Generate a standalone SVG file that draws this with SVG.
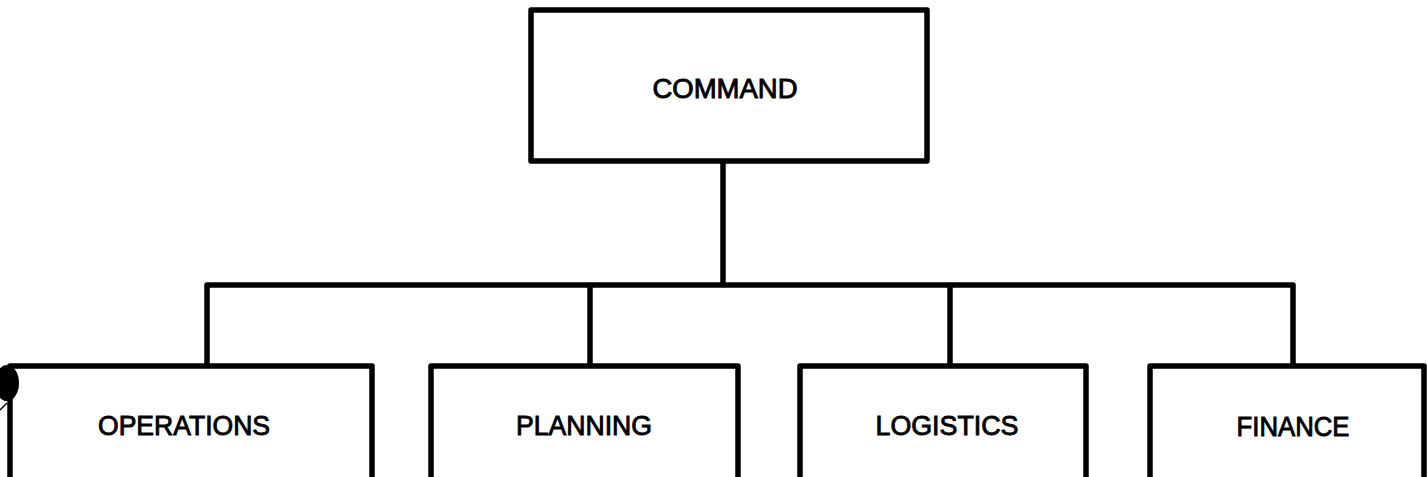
<svg xmlns="http://www.w3.org/2000/svg" width="1427" height="477" viewBox="0 0 1427 477">
<style>
.box{fill:#fff;stroke:#000;stroke-width:5.5;stroke-linejoin:round}
.lbl{font-family:"Liberation Sans",Arial,sans-serif;font-size:27px;fill:#000;stroke:#000;stroke-width:0.9;text-anchor:middle}
.con{fill:none;stroke:#000;stroke-width:5.5;stroke-linejoin:round;stroke-linecap:butt}
</style>
<rect width="1427" height="477" fill="#fff"/>
<g id="connectors">
<path class="con" d="M723,161 V285"/>
<path class="con" d="M207,366 V285 H1293 V366"/>
<path class="con" d="M590,285 V366"/>
<path class="con" d="M950,285 V366"/>
</g>
<g id="command">
<rect class="box" x="531" y="10" width="396" height="151"/>
<text class="lbl" x="725" y="98" textLength="145" lengthAdjust="spacingAndGlyphs">COMMAND</text>
</g>
<g id="operations">
<rect class="box" x="10" y="366" width="362" height="125"/>
<text class="lbl" x="184" y="435" textLength="172" lengthAdjust="spacingAndGlyphs">OPERATIONS</text>
</g>
<g id="planning">
<rect class="box" x="431" y="366" width="307" height="125"/>
<text class="lbl" x="584" y="435" textLength="136" lengthAdjust="spacingAndGlyphs">PLANNING</text>
</g>
<g id="logistics">
<rect class="box" x="800" y="366" width="286" height="125"/>
<text class="lbl" x="947" y="435" textLength="143" lengthAdjust="spacingAndGlyphs">LOGISTICS</text>
</g>
<g id="finance">
<rect class="box" x="1150" y="366" width="274" height="125"/>
<text class="lbl" x="1293" y="436" textLength="113" lengthAdjust="spacingAndGlyphs">FINANCE</text>
</g>
<g id="speck">
<ellipse cx="7" cy="383" rx="12" ry="18" fill="#000"/>
<path d="M0,410 L7,403" stroke="#000" stroke-width="1.5" fill="none"/>
</g>
</svg>
